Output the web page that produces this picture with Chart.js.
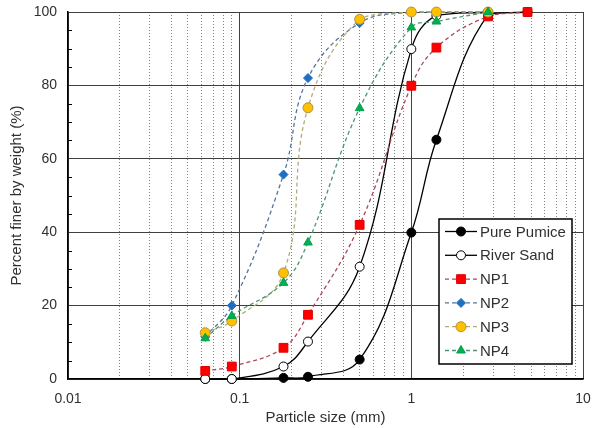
<html lang="en">
<head>
    <meta charset="UTF-8">
    <title>Particle size distribution</title>
    <script src="https://cdn.jsdelivr.net/npm/chart.js"></script>
    <style>
        body {
            margin: 0;
            background: #ffffff;
        }
        .wrap {
            width: 592px;
            height: 428px;
        }
    </style>
</head>
<body>
    <div class="wrap">
        <canvas id="psd" width="592" height="428"></canvas>
    </div>
    <script>
        // sieve sizes (mm)
        const sizes = [0.063, 0.09, 0.18, 0.25, 0.5, 1, 1.4, 2.8, 4.75];

        // percent finer by weight
        const purePumice = [0, 0, 0.3, 0.6, 5.3, 39.9, 65.2, 99.3, 100];
        const riverSand  = [0, 0, 3.4, 10.2, 30.6, 89.9, 99, 100, null];
        const np1        = [2.2, 3.4, 8.5, 17.5, 42, 79.9, 90.3, 98.8, 100];
        const np2        = [11.5, 20, 55.7, 82, 97, 100, 100, 100, null];
        const np3        = [12.6, 15.8, 28.9, 73.9, 98, 100, 100, 100, null];
        const np4        = [11.1, 17.2, 26.2, 37.2, 73.8, 95.8, 97.4, 100, null];

        const seriesNames = ["Pure Pumice", "River Sand", "NP1", "NP2", "NP3", "NP4"];

        // axis ticks
        const xDecades = [0.01, 0.1, 1, 10];
        const yTicks = [0, 20, 40, 60, 80, 100];
        const yMinorTicks = [5, 10, 15, 25, 30, 35, 45, 50, 55, 65, 70, 75, 85, 90, 95];

        const FONT = "'Liberation Sans', Arial, sans-serif";
        const TEXT = "#303030";

        function toPoints(vals) {
            return sizes.map((s, i) => ({x: s, y: vals[i]})).filter(p => p.y !== null);
        }

        // all the log grid positions: 1..9 per decade
        const xGrid = [];
        xDecades.slice(0, -1).forEach(d => {
            for (let k = 1; k <= 9; k++) xGrid.push(+(d * k).toPrecision(3));
        });
        xGrid.push(xDecades[xDecades.length - 1]);
        const isDecade = v => xDecades.some(d => Math.abs(d - v) < d * 1e-6);

        function ds(label, vals, o) {
            return Object.assign({
                label: label,
                data: toPoints(vals),
                borderWidth: 1.3,
                tension: 0.4,
                pointBorderWidth: 1,
                pointRadius: 4.5,
                pointHoverRadius: 4.5,
                clip: false
            }, o);
        }

        const datasets = [
            ds(seriesNames[0], purePumice, {
                borderColor: "#000000", backgroundColor: "#000000",
                pointStyle: "circle", pointBorderColor: "#000000", order: 6
            }),
            ds(seriesNames[1], riverSand, {
                borderColor: "#000000", backgroundColor: "#ffffff",
                pointStyle: "circle", pointBorderColor: "#000000", order: 5
            }),
            ds(seriesNames[2], np1, {
                borderColor: "#a84a58", backgroundColor: "#ff0000", borderDash: [4, 3],
                pointStyle: "rect", pointRadius: 6.2, pointBorderColor: "#e00000", order: 4
            }),
            ds(seriesNames[3], np2, {
                borderColor: "#54769c", backgroundColor: "#1f6fc0", borderDash: [4, 3],
                pointStyle: "rectRot", pointRadius: 4.5, pointBorderColor: "#1f6fc0", order: 3
            }),
            ds(seriesNames[4], np3, {
                borderColor: "#b3ac7a", backgroundColor: "#ffc000", borderDash: [4, 3],
                pointStyle: "circle", pointRadius: 5, pointBorderColor: "#b09040", order: 2
            }),
            ds(seriesNames[5], np4, {
                borderColor: "#4f9472", backgroundColor: "#00b050", borderDash: [4, 3],
                pointStyle: "triangle", pointRadius: 5, pointBorderColor: "#00a048", order: 1
            })
        ];

        // small inward ticks on the y axis
        const yMinor = {
            id: "yMinor",
            beforeDatasetsDraw(chart) {
                const {ctx, chartArea, scales} = chart;
                ctx.save();
                ctx.strokeStyle = "#000000";
                ctx.lineWidth = 1;
                yMinorTicks.forEach(v => {
                    const y = Math.round(scales.y.getPixelForValue(v)) + 0.5;
                    ctx.beginPath();
                    ctx.moveTo(chartArea.left, y);
                    ctx.lineTo(chartArea.left + 4, y);
                    ctx.stroke();
                });
                ctx.restore();
            }
        };

        // boxed legend inside the plot, line + marker samples
        const boxLegend = {
            id: "boxLegend",
            afterDraw(chart) {
                const {ctx, chartArea} = chart;
                const w = 133, h = 145;
                const x0 = chartArea.right - 11 - w;
                const y0 = chartArea.bottom - 15 - h;
                ctx.save();
                ctx.fillStyle = "#ffffff";
                ctx.fillRect(x0, y0, w, h);
                ctx.lineWidth = 1.5;
                ctx.strokeStyle = "#000000";
                ctx.strokeRect(x0, y0, w, h);
                chart.data.datasets.forEach((d, i) => {
                    const y = y0 + 12.5 + i * 23.8;
                    ctx.setLineDash(d.borderDash || []);
                    ctx.strokeStyle = d.borderColor;
                    ctx.lineWidth = d.borderWidth;
                    ctx.beginPath();
                    ctx.moveTo(x0 + 6, y);
                    ctx.lineTo(x0 + 38, y);
                    ctx.stroke();
                    ctx.setLineDash([]);
                    ctx.fillStyle = d.backgroundColor;
                    ctx.strokeStyle = d.pointBorderColor;
                    ctx.lineWidth = d.pointBorderWidth;
                    Chart.helpers.drawPoint(ctx, {
                        pointStyle: d.pointStyle, radius: d.pointRadius,
                        rotation: 0, borderWidth: d.pointBorderWidth
                    }, x0 + 22, y);
                    ctx.fillStyle = TEXT;
                    ctx.font = "15px " + FONT;
                    ctx.textBaseline = "middle";
                    ctx.textAlign = "left";
                    ctx.fillText(d.label, x0 + 41, y + 1);
                });
                ctx.restore();
            }
        };

        new Chart(document.getElementById("psd"), {
            type: "line",
            data: {datasets: datasets},
            plugins: [yMinor, boxLegend],
            options: {
                responsive: false,
                animation: false,
                devicePixelRatio: 1,
                layout: {padding: {top: 12, right: 9, left: 0, bottom: 0}},
                plugins: {
                    legend: {display: false},
                    tooltip: {enabled: false}
                },
                scales: {
                    x: {
                        type: "logarithmic",
                        min: 0.01,
                        max: 10,
                        afterBuildTicks: s => {
                            s.ticks = xGrid.map(v => ({value: v, major: isDecade(v)}));
                        },
                        afterFit: s => {
                            s.height = 49;
                            s.paddingLeft = 0;
                            s.paddingRight = 0;
                        },
                        ticks: {
                            autoSkip: false,
                            maxRotation: 0,
                            padding: 12,
                            color: TEXT,
                            font: {family: FONT, size: 14},
                            callback: v => isDecade(v) ? String(v) : ""
                        },
                        grid: {
                            drawTicks: false,
                            color: c => (c.tick && isDecade(c.tick.value)) ? "#404040" : "#808080",
                            lineWidth: 1
                        },
                        border: {
                            color: "#000000",
                            width: 1.5,
                            dash: c => (c.tick && !isDecade(c.tick.value)) ? [1, 2] : []
                        },
                        title: {
                            display: true,
                            text: "Particle size (mm)",
                            color: TEXT,
                            font: {family: FONT, size: 15},
                            padding: {top: 0, bottom: 1}
                        }
                    },
                    y: {
                        min: 0,
                        max: 100,
                        afterBuildTicks: s => {
                            s.ticks = yTicks.map(v => ({value: v}));
                        },
                        afterFit: s => {
                            s.width = 68;
                            s.paddingTop = 0;
                            s.paddingBottom = 0;
                        },
                        ticks: {
                            padding: 11,
                            color: TEXT,
                            font: {family: FONT, size: 14}
                        },
                        grid: {
                            drawTicks: false,
                            color: "#404040",
                            lineWidth: 1
                        },
                        border: {color: "#000000", width: 1.5},
                        title: {
                            display: true,
                            text: "Percent finer by weight (%)",
                            color: TEXT,
                            font: {family: FONT, size: 15},
                            padding: {top: 8, bottom: 0}
                        }
                    }
                }
            }
        });
    </script>
</body>
</html>
